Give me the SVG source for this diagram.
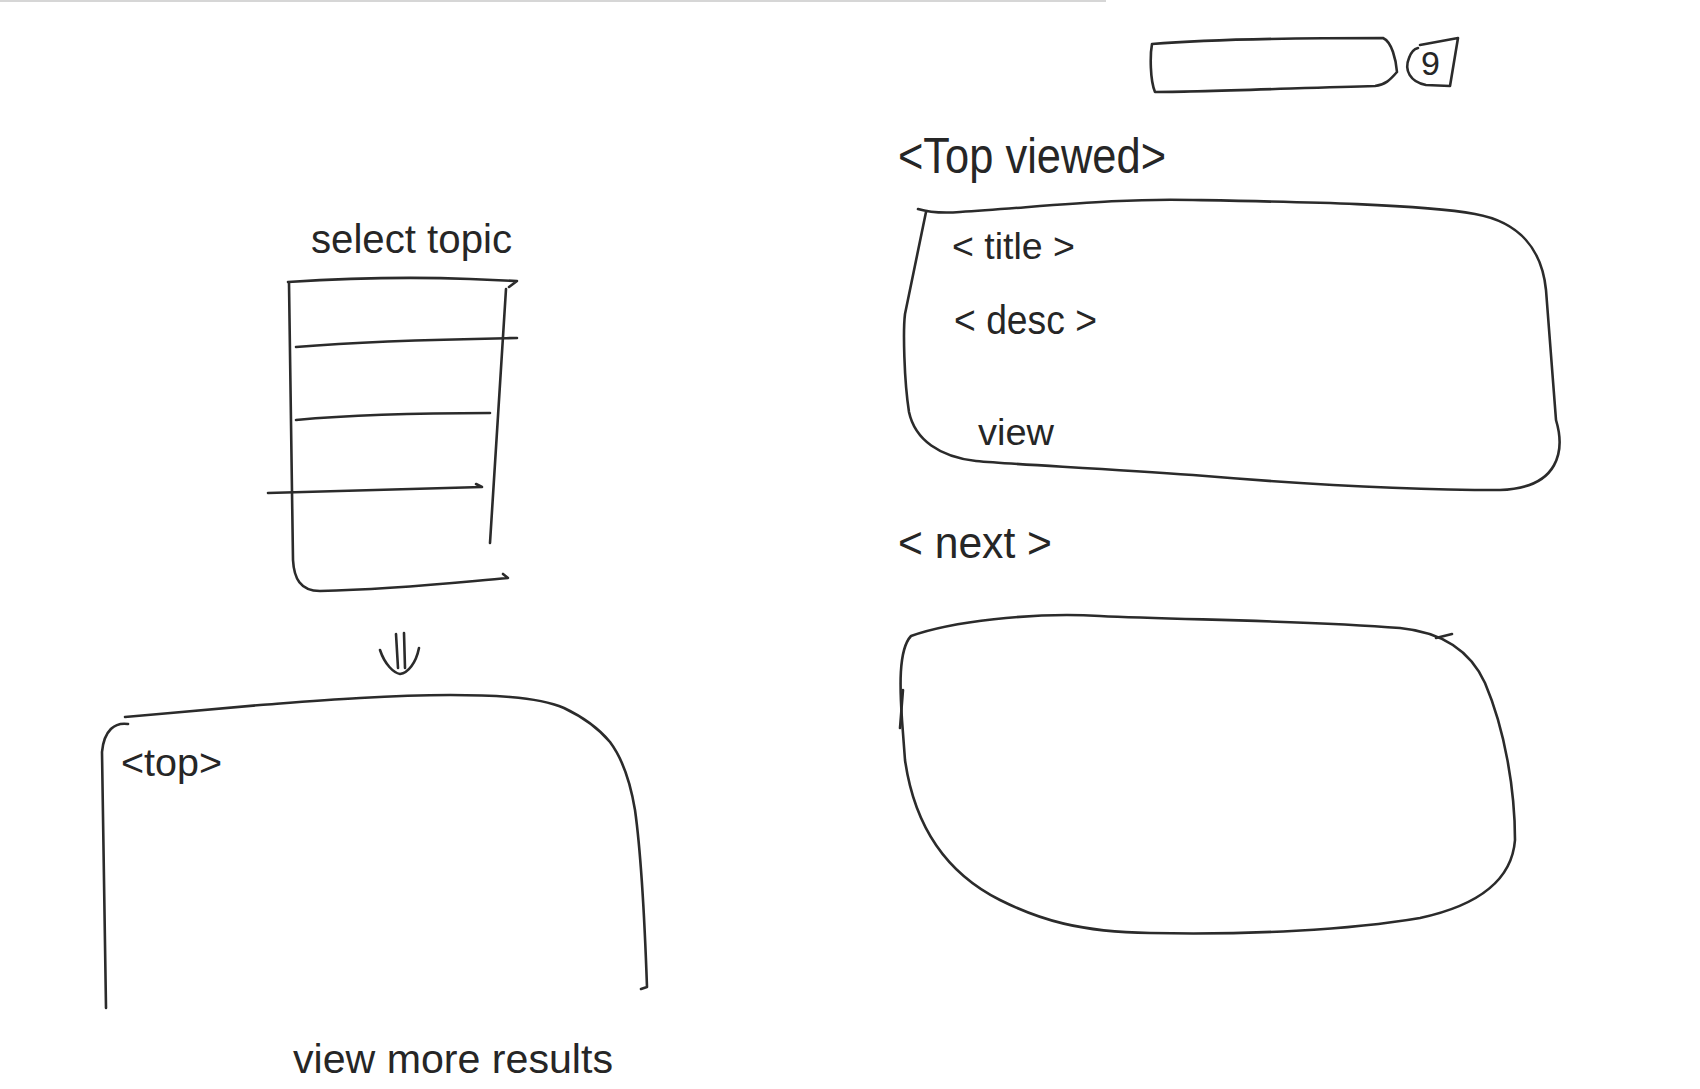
<svg xmlns="http://www.w3.org/2000/svg" width="1700" height="1089" viewBox="0 0 1700 1089">
<style>
.ink{fill:none;stroke:#2b2b2b;stroke-width:2.6;stroke-linecap:round;stroke-linejoin:round}
.txt{font-family:"Liberation Sans","DejaVu Sans",sans-serif;fill:#262626}
</style>
<rect width="1700" height="1089" fill="#ffffff"/>
<line x1="0" y1="1" x2="1106" y2="1" stroke="#c8c8c8" stroke-width="1.5"/>

<g id="search-box">
<path class="ink" d="M 1152 44 C 1200 40, 1300 38, 1383 38 C 1392 42, 1396 60, 1397 72 C 1390 80, 1385 85, 1375 86 C 1300 88, 1200 92, 1155 92 C 1150 80, 1150 55, 1152 44 Z"/>
</g>
<g id="search-icon">
<path class="ink" d="M 1420 45 L 1458 38 L 1450 86 L 1426 85 C 1410 82, 1404 70, 1409 58 C 1411 52, 1414 49, 1418 48"/>
<text class="txt" x="1421" y="75" font-size="34">9</text>
</g>

<g id="select-topic">
<text class="txt" x="311" y="253" font-size="40" textLength="201" lengthAdjust="spacingAndGlyphs">select topic</text>
<path class="ink" d="M 288 282 C 350 278, 420 277, 470 279 L 517 281 L 509 287"/>
<path class="ink" d="M 289 283 L 293 560 C 294 578, 300 591, 320 591 C 400 589, 460 582, 508 578 L 503 574"/>
<path class="ink" d="M 506 289 L 490 543"/>
<path class="ink" d="M 296 347 C 380 340, 460 339, 517 338"/>
<path class="ink" d="M 296 420 C 360 414, 430 413, 490 413"/>
<path class="ink" d="M 268 493 L 482 487 L 476 484"/>
</g>

<g id="connectors">
<path class="ink" d="M 396 634 L 398 668 M 404 633 L 405 668"/>
<path class="ink" d="M 380 650 C 385 665, 394 673, 400 674 C 408 673, 416 663, 419 648"/>
</g>

<g id="top-results">
<path class="ink" d="M 125 717 C 170 713, 217 709, 260 705 C 300 702, 325 700, 360 698 C 410 695, 470 694, 510 697 C 535 699, 550 702, 564 708 C 585 718, 600 730, 610 742 C 622 758, 630 780, 635 810 C 642 860, 645 930, 647 987 L 641 989"/>
<path class="ink" d="M 128 724 C 115 722, 104 730, 102 752 L 106 1008"/>
<text class="txt" x="121" y="776" font-size="38" textLength="101" lengthAdjust="spacingAndGlyphs">&lt;top&gt;</text>
<text class="txt" x="293" y="1073" font-size="40" textLength="320" lengthAdjust="spacingAndGlyphs">view more results</text>
</g>

<g id="top-viewed">
<text class="txt" x="898" y="173" font-size="50" textLength="268" lengthAdjust="spacingAndGlyphs">&lt;Top viewed&gt;</text>
<path class="ink" d="M 918 209 Q 935 214 960 212 C 1050 206, 1120 198, 1193 200 C 1300 202, 1420 204, 1475 214 C 1520 222, 1542 250, 1546 290 L 1556 420 C 1565 450, 1560 488, 1500 490 C 1400 490, 1300 484, 1193 475 C 1100 468, 1020 465, 976 461 C 940 457, 915 440, 909 412 C 904 380, 903 330, 905 314 L 926 212"/>
<text class="txt" x="952" y="259" font-size="36" textLength="123" lengthAdjust="spacingAndGlyphs">&lt; title &gt;</text>
<text class="txt" x="954" y="334" font-size="40" textLength="143" lengthAdjust="spacingAndGlyphs">&lt; desc &gt;</text>
<text class="txt" x="978" y="445" font-size="36" textLength="76" lengthAdjust="spacingAndGlyphs">view</text>
</g>

<g id="next">
<text class="txt" x="898" y="558" font-size="44" textLength="154" lengthAdjust="spacingAndGlyphs">&lt; next &gt;</text>
<path class="ink" d="M 911 636 C 950 622, 1030 612, 1100 616 C 1180 620, 1300 620, 1400 628 C 1440 632, 1470 650, 1485 683 C 1505 730, 1515 790, 1515 840 C 1512 880, 1480 905, 1420 918 C 1350 930, 1250 935, 1150 933 C 1080 932, 1040 920, 1000 900 C 950 875, 915 830, 905 760 L 902 720 C 900 690, 898 650, 911 636 Z"/>
<path class="ink" d="M 903 690 L 900 728"/>
<path class="ink" d="M 1436 638 L 1452 634"/>
</g>
</svg>
